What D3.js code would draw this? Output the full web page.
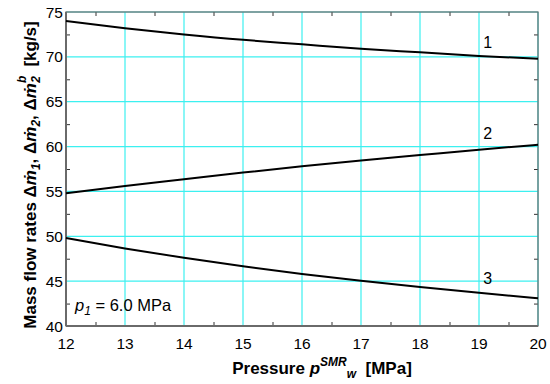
<!DOCTYPE html>
<html>
<head>
<meta charset="utf-8">
<script src="https://cdn.jsdelivr.net/npm/d3@7"></script>
<style>
  body { margin: 0; background: #fff; }
  svg text { font-family: "Liberation Sans", Arial, sans-serif; }
</style>
</head>
<body>
<div id="chart"></div>
<script>
// pressure values [MPa]
var pressure = [12, 13, 14, 15, 16, 17, 18, 19, 20];

// mass flow rates [kg/s]
var flow1 = [74.0, 73.2, 72.5, 71.9, 71.4, 70.9, 70.5, 70.1, 69.8];
var flow2 = [54.8, 55.6, 56.35, 57.1, 57.8, 58.45, 59.05, 59.65, 60.2];
var flow3 = [49.8, 48.65, 47.6, 46.65, 45.8, 45.05, 44.35, 43.7, 43.1];

var curveNames = ["1", "2", "3"];
var xTicks = [12, 13, 14, 15, 16, 17, 18, 19, 20];
var yTicks = [40, 45, 50, 55, 60, 65, 70, 75];

var margin = {top: 12, right: 12, bottom: 58, left: 66},
    width = 550 - margin.left - margin.right,
    height = 384 - margin.top - margin.bottom;

var svg = d3.select("#chart")
            .append("svg")
            .attr("width", 550)
            .attr("height", 384);

var g = svg.append("g")
           .attr("transform", "translate(" + margin.left + "," + margin.top + ")");

var xScale = d3.scaleLinear().domain([12, 20]).range([0, width]);
var yScale = d3.scaleLinear().domain([40, 75]).range([height, 0]);

// cyan grid
g.selectAll(".vgrid")
    .data(xTicks)
    .enter().append("line")
    .attr("x1", function(d) { return xScale(d); })
    .attr("x2", function(d) { return xScale(d); })
    .attr("y1", 0).attr("y2", height)
    .style("stroke", "#3cf0f0")
    .style("stroke-width", 1.2);

g.selectAll(".hgrid")
    .data(yTicks)
    .enter().append("line")
    .attr("y1", function(d) { return yScale(d); })
    .attr("y2", function(d) { return yScale(d); })
    .attr("x1", 0).attr("x2", width)
    .style("stroke", "#3cf0f0")
    .style("stroke-width", 1.2);

// minor ticks, pointing inward on all four sides
var xMinor = d3.range(12.5, 20, 1);
var yMinor = d3.range(42.5, 75, 5);

var xAxisB = d3.axisBottom(xScale).tickValues(xMinor).tickSize(-4).tickFormat("");
var xAxisT = d3.axisTop(xScale).tickValues(xMinor).tickSize(-4).tickFormat("");
var yAxisL = d3.axisLeft(yScale).tickValues(yMinor).tickSize(-4).tickFormat("");
var yAxisR = d3.axisRight(yScale).tickValues(yMinor).tickSize(-4).tickFormat("");

[[xAxisB, "translate(0," + height + ")"], [xAxisT, "translate(0,0)"],
 [yAxisL, "translate(0,0)"], [yAxisR, "translate(" + width + ",0)"]].forEach(function(a) {
    var ax = g.append("g").attr("transform", a[1]).call(a[0]);
    ax.select(".domain").remove();
    ax.selectAll("line").style("stroke", "#333");
});

// frame
g.append("rect")
    .attr("width", width)
    .attr("height", height)
    .style("fill", "none")
    .style("stroke", "#6a6a6a")
    .style("stroke-width", 1.2);
g.append("line")
    .attr("x1", 0).attr("x2", 0).attr("y1", 0).attr("y2", height)
    .style("stroke", "#6a6a6a").style("stroke-width", 2);
g.append("line")
    .attr("x1", 0).attr("x2", width).attr("y1", height).attr("y2", height)
    .style("stroke", "#6a6a6a").style("stroke-width", 2);

// tick labels
g.selectAll(".xlab")
    .data(xTicks)
    .enter().append("text")
    .attr("x", function(d) { return xScale(d); })
    .attr("y", height + 23)
    .attr("text-anchor", "middle")
    .style("font-size", "15.5px")
    .text(function(d) { return d; });

g.selectAll(".ylab")
    .data(yTicks)
    .enter().append("text")
    .attr("x", -3)
    .attr("y", function(d) { return yScale(d) + 5.5; })
    .attr("text-anchor", "end")
    .style("font-size", "15.5px")
    .text(function(d) { return d; });

// curves
var line = d3.line()
    .x(function(d) { return xScale(d[0]); })
    .y(function(d) { return yScale(d[1]); })
    .curve(d3.curveNatural);

[flow1, flow2, flow3].forEach(function(s) {
    g.append("path")
        .datum(pressure.map(function(p, i) { return [p, s[i]]; }))
        .attr("d", line)
        .style("fill", "none")
        .style("stroke", "#000")
        .style("stroke-width", 2);
});

// curve numbers
var labelPos = [[19.07, 71.0], [19.07, 60.85], [19.07, 44.7]];
g.selectAll(".cname")
    .data(curveNames)
    .enter().append("text")
    .attr("x", function(d, i) { return xScale(labelPos[i][0]); })
    .attr("y", function(d, i) { return yScale(labelPos[i][1]); })
    .style("font-size", "16px")
    .text(function(d) { return d; });

// p1 note
var note = g.append("text")
    .attr("x", 9)
    .attr("y", height - 15)
    .style("font-size", "16.5px");
note.append("tspan").style("font-style", "italic").text("p");
note.append("tspan").style("font-style", "italic").style("font-size", "12px")
    .attr("dy", 4).text("1");
note.append("tspan").attr("dy", -4).text(" = 6.0 MPa");

// x axis title
var xt = svg.append("text")
    .attr("x", 322)
    .attr("y", 374)
    .attr("text-anchor", "middle")
    .style("font-size", "17px")
    .style("font-weight", "bold");
xt.append("tspan").text("Pressure ");
xt.append("tspan").style("font-style", "italic").text("p");
xt.append("tspan").style("font-style", "italic").style("font-size", "12px")
    .attr("dy", -8).text("SMR");
xt.append("tspan").style("font-style", "italic").style("font-size", "12px")
    .attr("dy", 12).text("w");
xt.append("tspan").attr("dy", -4).text("\u00a0\u00a0[MPa]");

// y axis title
var yt = svg.append("text")
    .attr("transform", "translate(36,175) rotate(-90)")
    .attr("text-anchor", "middle")
    .style("font-size", "17px")
    .style("font-weight", "bold");
yt.append("tspan").text("Mass flow rates \u0394");
yt.append("tspan").style("font-style", "italic").text("m\u0307");
yt.append("tspan").style("font-style", "italic").style("font-size", "12px")
    .attr("dy", 4).text("1");
yt.append("tspan").attr("dy", -4).text(", \u0394");
yt.append("tspan").style("font-style", "italic").text("m\u0307");
yt.append("tspan").style("font-style", "italic").style("font-size", "12px")
    .attr("dy", 4).text("2");
yt.append("tspan").attr("dy", -4).text(", \u0394");
yt.append("tspan").style("font-style", "italic").text("m\u0307");
yt.append("tspan").style("font-style", "italic").style("font-size", "12px")
    .attr("dy", -10).text("b");
yt.append("tspan").style("font-style", "italic").style("font-size", "12px")
    .attr("dx", -7).attr("dy", 14).text("2");
yt.append("tspan").attr("dy", -4).text("\u00a0\u00a0[kg/s]");
</script>
</body>
</html>
